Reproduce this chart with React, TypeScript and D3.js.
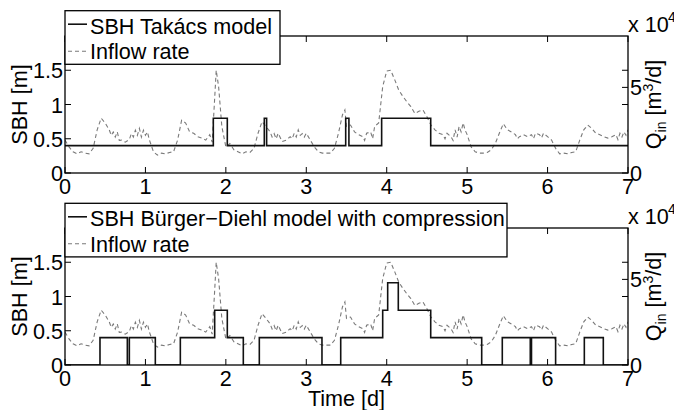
import React from 'react';
import * as d3 from 'd3';

// ---- data ----
const dayTicks = [0, 1, 2, 3, 4, 5, 6, 7];
const sbhTicks = [0, 0.5, 1, 1.5];
const sbhTickLabels = ['0', '0.5', '1', '1.5'];
const qTicks = [0, 4, 5, 6]; // x 10^4 m3/d
const qTickLabels = ['0', '', '5', ''];

// inflow rate [x10^4 m3/d] over time [d]
const inflow: [number, number][] = [
  [0, 1.92], [0.05, 1.52], [0.1, 1.24], [0.15, 1.12], [0.2, 1.24], [0.25, 1.16], [0.3, 1.12], [0.35, 1.44],
  [0.4, 2.52], [0.45, 3.2], [0.5, 2.92], [0.55, 2.52], [0.575, 2.2], [0.6, 2.4], [0.625, 2.1], [0.65, 2.4],
  [0.675, 1.9], [0.7, 1.92], [0.75, 1.8], [0.8, 1.96], [0.825, 2.3], [0.85, 2.1], [0.875, 2.5], [0.9, 2.2],
  [0.925, 2.6], [0.95, 2.1], [0.975, 2.5], [1.0, 2.2], [1.025, 2.4], [1.05, 1.92], [1.1, 1.24], [1.15, 1.04],
  [1.2, 1.16], [1.25, 1.12], [1.3, 1.2], [1.35, 1.24], [1.4, 1.92], [1.45, 3.08], [1.5, 2.92], [1.55, 2.4],
  [1.6, 2.32], [1.65, 2.12], [1.7, 2.04], [1.75, 1.92], [1.8, 2.24], [1.83, 1.8], [1.86, 4.28], [1.88, 6.0],
  [1.91, 5.04], [1.95, 2.72], [2.0, 1.52], [2.05, 1.72], [2.1, 1.36], [2.15, 1.24], [2.2, 1.12], [2.25, 1.24],
  [2.3, 1.2], [2.35, 1.44], [2.4, 2.32], [2.45, 3.0], [2.5, 2.72], [2.55, 2.4], [2.575, 2.1], [2.6, 2.3],
  [2.625, 2.0], [2.65, 2.32], [2.7, 1.84], [2.75, 1.92], [2.8, 2.12], [2.825, 2.0], [2.85, 2.32], [2.875, 2.1],
  [2.9, 2.52], [2.925, 2.2], [2.95, 2.3], [2.975, 2.1], [3.0, 2.32], [3.05, 1.92], [3.1, 1.52], [3.15, 1.24],
  [3.2, 1.16], [3.25, 1.16], [3.3, 1.16], [3.35, 1.44], [3.4, 2.32], [3.45, 3.4], [3.48, 3.68], [3.5, 2.72],
  [3.55, 2.8], [3.6, 2.4], [3.65, 2.24], [3.7, 2.12], [3.725, 1.9], [3.75, 2.32], [3.8, 2.4], [3.825, 2.0],
  [3.85, 2.72], [3.9, 2.92], [3.95, 5.04], [4.0, 5.96], [4.05, 6.0], [4.1, 5.44], [4.15, 4.84], [4.2, 4.48],
  [4.25, 4.16], [4.3, 3.88], [4.35, 3.48], [4.4, 3.6], [4.45, 3.68], [4.5, 3.28], [4.55, 2.8], [4.6, 2.52],
  [4.65, 2.32], [4.7, 2.24], [4.725, 2.0], [4.75, 2.32], [4.8, 2.12], [4.825, 1.9], [4.85, 2.52], [4.875, 2.1],
  [4.9, 2.72], [4.925, 2.4], [4.95, 2.92], [4.975, 2.5], [5.0, 2.24], [5.05, 1.52], [5.1, 1.24], [5.15, 1.16],
  [5.2, 1.16], [5.25, 1.2], [5.3, 1.36], [5.35, 1.72], [5.4, 2.32], [5.45, 2.88], [5.5, 2.52], [5.55, 2.4],
  [5.6, 2.24], [5.625, 2.0], [5.65, 2.12], [5.7, 2.24], [5.75, 2.12], [5.8, 2.24], [5.825, 2.0], [5.85, 2.32],
  [5.9, 2.24], [5.925, 2.05], [5.95, 2.32], [6.0, 2.12], [6.05, 1.92], [6.1, 1.44], [6.15, 1.12], [6.2, 1.16],
  [6.25, 1.12], [6.3, 1.2], [6.35, 1.24], [6.4, 1.92], [6.45, 2.52], [6.5, 2.8], [6.55, 2.6], [6.6, 2.32],
  [6.65, 2.24], [6.7, 2.12], [6.75, 2.04], [6.8, 2.12], [6.85, 2.24], [6.875, 1.95], [6.9, 2.32], [6.925, 2.1],
  [6.95, 2.4], [6.975, 2.2], [7.0, 2.52],
];

// sludge blanket height step series [m]
const takacsEdges = [0, 1.844, 2.018, 2.478, 2.507, 3.49, 3.53, 3.937, 4.547, 7];
const takacsLevels = [0.4, 0.8, 0.4, 0.8, 0.4, 0.8, 0.4, 0.8, 0.4];
const burgerEdges = [0, 0.435, 0.775, 0.8, 1.123, 1.434, 1.861, 2.018, 2.217, 2.416, 3.195, 3.428, 3.95,
  4.012, 4.144, 4.547, 5.181, 5.437, 5.785, 5.8, 6.1, 6.457, 6.693, 7];
const burgerLevels = [0, 0.4, 0, 0.4, 0, 0.4, 0.8, 0.4, 0, 0.4, 0, 0.4, 0.8, 1.2, 0.8, 0.4, 0, 0.4, 0, 0.4, 0, 0.4, 0];

const legendLabels = ['SBH Takács model', 'SBH Bürger\u2212Diehl model with compression'];
const inflowLabel = 'Inflow rate';

// ---- layout ----
const W = 674;
const H = 410;
const X0 = 65;
const X1 = 628;
const FONT = '"Liberation Sans", Arial, Helvetica, sans-serif';
const FS = 21.6;

type PanelProps = {
  top: number;
  bottom: number;
  edges: number[];
  levels: number[];
  label: string;
  legendW: number;
  legendTop: number;
  id: string;
};

function Panel({ top, bottom, edges, levels, label, legendW, legendTop, id }: PanelProps) {
  const x = d3.scaleLinear().domain([0, 7]).range([X0, X1]);
  const yL = d3.scaleLinear().domain([0, 2]).range([bottom, top]);
  const yR = d3.scaleLinear().domain([0, 8]).range([bottom, top]);

  const stepPts: [number, number][] = edges.slice(0, -1).map((e, i) => [e, levels[i]] as [number, number]);
  stepPts.push([edges[edges.length - 1], levels[levels.length - 1]]);
  const stepLine = d3
    .line<[number, number]>()
    .x((d) => x(d[0]))
    .y((d) => yL(d[1]))
    .curve(d3.curveStepAfter);
  const flowLine = d3
    .line<[number, number]>()
    .x((d) => x(d[0]))
    .y((d) => yR(d[1]));

  const cy = (top + bottom) / 2;
  const tickLen = 6;
  return (
    <g>
      <defs>
        <clipPath id={id}>
          <rect x={X0} y={top} width={X1 - X0} height={bottom - top} />
        </clipPath>
      </defs>
      <g clipPath={`url(#${id})`}>
        <path d={flowLine(inflow) || ''} fill="none" stroke="#7a7a7a" strokeWidth={1.1} strokeDasharray="4,3" />
        <path d={stepLine(stepPts) || ''} fill="none" stroke="#111" strokeWidth={1.6} />
      </g>
      {/* axes box */}
      <rect x={X0} y={top} width={X1 - X0} height={bottom - top} fill="none" stroke="#000" strokeWidth={1.3} />
      {/* x ticks top & bottom */}
      {dayTicks.map((t) => (
        <g key={'xt' + t}>
          <line x1={x(t)} x2={x(t)} y1={top} y2={top + tickLen} stroke="#000" strokeWidth={1} />
          <line x1={x(t)} x2={x(t)} y1={bottom} y2={bottom - tickLen} stroke="#000" strokeWidth={1} />
          <text x={x(t)} y={bottom + 21} textAnchor="middle" fontSize={FS} fontFamily={FONT}>
            {t}
          </text>
        </g>
      ))}
      {/* left ticks */}
      {sbhTicks.map((v, i) => (
        <g key={'yl' + v}>
          <line x1={X0} x2={X0 + tickLen} y1={yL(v)} y2={yL(v)} stroke="#000" strokeWidth={1} />
          <text x={X0 - 2} y={yL(v) + 8} textAnchor="end" fontSize={FS} fontFamily={FONT}>
            {sbhTickLabels[i]}
          </text>
        </g>
      ))}
      {/* right ticks */}
      {qTicks.map((v, i) => (
        <g key={'yr' + v}>
          <line x1={X1} x2={X1 - tickLen} y1={yR(v)} y2={yR(v)} stroke="#000" strokeWidth={1} />
          {qTickLabels[i] ? (
            <text x={X1 + 2} y={yR(v) + 8} textAnchor="start" fontSize={FS} fontFamily={FONT}>
              {qTickLabels[i]}
            </text>
          ) : null}
        </g>
      ))}
      {/* exponent */}
      <text x={X1} y={top - 4} fontSize={FS} fontFamily={FONT}>
        x 10
      </text>
      <text x={X1 + 40} y={top - 14} fontSize={14} fontFamily={FONT}>
        4
      </text>
      {/* y labels */}
      <text transform={`translate(27, ${cy}) rotate(-90)`} textAnchor="middle" fontSize={FS} fontFamily={FONT}>
        SBH [m]
      </text>
      <text transform={`translate(661, ${cy}) rotate(-90)`} textAnchor="middle" fontSize={FS} fontFamily={FONT}>
        Q
        <tspan fontSize={14} dy={5}>
          in
        </tspan>
        <tspan dy={-5}> [m</tspan>
        <tspan fontSize={14} dy={-8}>
          3
        </tspan>
        <tspan dy={8}>/d]</tspan>
      </text>
      {/* legend */}
      <rect x={X0} y={legendTop} width={legendW} height={53.6} fill="#fff" stroke="#000" strokeWidth={1.3} />
      <line x1={68} x2={87} y1={legendTop + 13.5} y2={legendTop + 13.5} stroke="#111" strokeWidth={1.6} />
      <text x={90} y={legendTop + 23} fontSize={FS} fontFamily={FONT}>
        {label}
      </text>
      <line
        x1={68}
        x2={87}
        y1={legendTop + 40.5}
        y2={legendTop + 40.5}
        stroke="#7a7a7a"
        strokeWidth={1.1}
        strokeDasharray="4,3"
      />
      <text x={90} y={legendTop + 48.5} fontSize={FS} fontFamily={FONT}>
        {inflowLabel}
      </text>
    </g>
  );
}

export default function App() {
  return (
    <svg
      width={W}
      height={H}
      style={{ position: 'absolute', left: 0, top: 0, background: '#fff' }}
      xmlns="http://www.w3.org/2000/svg"
    >
      <rect x={0} y={0} width={W} height={H} fill="#fff" />
      <Panel
        top={36}
        bottom={173}
        edges={takacsEdges}
        levels={takacsLevels}
        label={legendLabels[0]}
        legendW={215}
        legendTop={10.7}
        id="clipTop"
      />
      <Panel
        top={228}
        bottom={365}
        edges={burgerEdges}
        levels={burgerLevels}
        label={legendLabels[1]}
        legendW={442}
        legendTop={203.3}
        id="clipBottom"
      />
      <text x={(X0 + X1) / 2} y={406} textAnchor="middle" fontSize={FS} fontFamily={FONT}>
        Time [d]
      </text>
    </svg>
  );
}
